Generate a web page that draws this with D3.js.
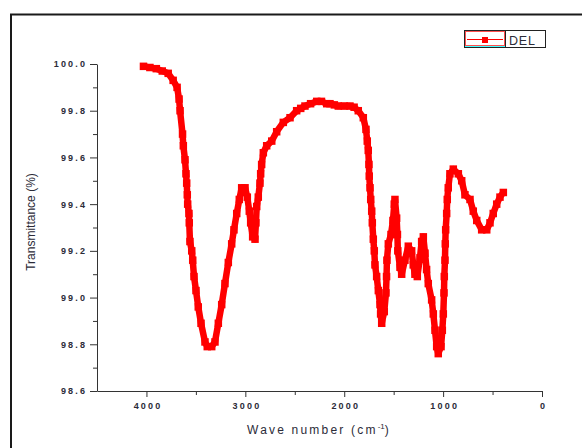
<!DOCTYPE html>
<html>
<head>
<meta charset="utf-8">
<script src="https://cdn.jsdelivr.net/npm/d3@7"></script>
<style>
	body { margin:0; background:#fff; }
	svg { display:block; font-family:"Liberation Sans", Arial, sans-serif; }
	.tick text { fill:#2b2b38; font-size:9px; font-weight:bold; letter-spacing:2.2px; }
	.domain, .tick line { stroke:#333; }
</style>
</head>
<body>
<div id="player"></div>
<script>

// FTIR spectrum
var wavenumbers = [4030,3965,3900,3840,3780,3730,3690,3670,3660,3635,3627,3610,3600,3593,3587,3583,3570,3567,3560,3542,
	3532,3519,3499,3476,3448,3408,3385,3340,3307,3273,3239,3206,3172,3138,3115,3087,3061,3037,3003,2980,
	2960,2946,2926,2902,2893,2885,2869,2852,2845,2835,2818,2784,2733,2683,2616,2548,2481,2440,2397,2340,
	2278,2230,2177,2144,2100,2060,2000,1942,1900,1858,1807,1780,1767,1757,1750,1747,1739,1732,1722,1716,
	1706,1696,1689,1672,1655,1638,1632,1621,1595,1578,1572,1568,1554,1527,1507,1494,1487,1470,1462,1458,
	1436,1419,1386,1352,1318,1302,1285,1261,1234,1217,1200,1183,1167,1150,1116,1099,1082,1065,1049,1021,
	1008,998,991,988,981,978,974,964,958,948,931,897,846,812,779,728,695,660,610,559,
	526,493,458,425,391];
var transmittance = [99.99,99.985,99.98,99.97,99.96,99.93,99.90,99.85,99.80,99.70,99.65,99.59,99.53,99.49,99.44,99.40,99.36,99.32,99.24,99.20,
	99.16,99.09,99.03,98.96,98.89,98.81,98.79,98.79,98.81,98.89,98.97,99.06,99.15,99.23,99.29,99.36,99.42,99.47,99.47,99.43,
	99.37,99.32,99.26,99.25,99.32,99.39,99.43,99.49,99.53,99.57,99.62,99.65,99.67,99.71,99.75,99.77,99.80,99.81,99.82,99.83,
	99.84,99.84,99.83,99.83,99.825,99.82,99.82,99.82,99.815,99.80,99.77,99.72,99.67,99.63,99.57,99.52,99.47,99.42,99.37,99.32,
	99.25,99.20,99.14,99.09,99.03,98.97,98.93,98.89,98.94,99.02,99.09,99.16,99.23,99.27,99.33,99.40,99.42,99.34,99.27,99.20,
	99.13,99.10,99.16,99.22,99.20,99.14,99.10,99.09,99.17,99.24,99.26,99.19,99.12,99.06,98.99,98.93,98.86,98.79,98.76,98.79,
	98.86,98.93,99.02,99.09,99.16,99.23,99.29,99.36,99.42,99.47,99.53,99.55,99.53,99.50,99.44,99.42,99.37,99.33,99.29,99.29,
	99.32,99.36,99.40,99.43,99.45];
var seriesName = "DEL";

// ticks
var xMajor = [4000, 3000, 2000, 1000, 0];
var xMinor = [3500, 2500, 1500, 500];
var yMajor = [98.6, 98.8, 99.0, 99.2, 99.4, 99.6, 99.8, 100.0];
var yMinor = [98.7, 98.9, 99.1, 99.3, 99.5, 99.7, 99.9];

var points = wavenumbers.map(function(w, i){ return {w:w, t:transmittance[i]}; });

// set the dimensions and margins of the graph
var margin = {top:64, left:97},
	width = 445,
	height = 327;

var x = d3.scaleLinear().domain([4500, 0]).range([0, width]);
var y = d3.scaleLinear().domain([98.6, 100.0]).range([height, 0]);

var svg = d3.select("#player").append("svg")
	.attr("width", 582)
	.attr("height", 448);

// outer frame (only top and left show)
svg.append("path")
	.attr("d", "M11,448V14.5H582")
	.attr("fill", "none")
	.attr("stroke", "#1a1a1a")
	.attr("stroke-width", 2);

var chart = svg.append("g")
	.attr("transform", "translate(" + margin.left + "," + margin.top + ")");

// minor ticks first
chart.append("g")
	.attr("transform", "translate(0," + height + ")")
	.call(d3.axisBottom(x).tickValues(xMinor).tickSize(4).tickFormat(""))
	.call(function(g){ g.select(".domain").remove(); });
chart.append("g")
	.call(d3.axisLeft(y).tickValues(yMinor).tickSize(4).tickFormat(""))
	.call(function(g){ g.select(".domain").remove(); });

// major axes
var xAxis = chart.append("g")
	.attr("transform", "translate(0," + height + ")")
	.call(d3.axisBottom(x).tickValues(xMajor).tickSize(6).tickSizeOuter(0).tickPadding(6).tickFormat(d3.format("d")));
var yAxis = chart.append("g")
	.call(d3.axisLeft(y).tickValues(yMajor).tickSize(7).tickSizeOuter(0).tickPadding(5).tickFormat(d3.format(".1f")));
xAxis.selectAll("text").attr("dx", "1.1px");
yAxis.selectAll("text").attr("dx", "2.2px");

// axis labels
svg.append("text")
	.attr("x", 319)
	.attr("y", 434)
	.attr("text-anchor", "middle")
	.style("font-size", "12px")
	.style("letter-spacing", "2.2px")
	.style("fill", "#2b2b38")
	.call(function(t){
		t.append("tspan").text("Wave number (cm");
		t.append("tspan").attr("dy", "-5").style("font-size", "8px").style("letter-spacing", "0px").text("-1");
		t.append("tspan").attr("dy", "5").text(")");
	});
svg.append("text")
	.attr("transform", "translate(35,222) rotate(-90)")
	.attr("text-anchor", "middle")
	.style("font-size", "12px")
	.style("fill", "#2b2b38")
	.text("Transmittance (%)");

// the spectrum
var pathline = d3.line()
	.x(function(d){ return x(d.w); })
	.y(function(d){ return y(d.t); });

chart.append("path")
	.datum(points)
	.attr("d", pathline)
	.attr("fill", "none")
	.attr("stroke", "#ff0000")
	.attr("stroke-width", 6.5)
	.attr("stroke-linejoin", "round");

chart.selectAll("rect.pt").data(points).enter().append("rect")
	.attr("class", "pt")
	.attr("x", function(d){ return x(d.w) - 3.75; })
	.attr("y", function(d){ return y(d.t) - 3.75; })
	.attr("width", 7.5)
	.attr("height", 7.5)
	.attr("fill", "#ff0000");

// legend
var legend = svg.append("g");
legend.append("rect")
	.attr("x", 464.5).attr("y", 30.5)
	.attr("width", 81).attr("height", 17)
	.attr("fill", "#fff")
	.attr("stroke", "#222");
legend.append("rect")
	.attr("x", 465.5).attr("y", 31.5)
	.attr("width", 39).attr("height", 14)
	.attr("fill", "none")
	.attr("stroke", "#ff5050");
legend.append("line")
	.attr("x1", 465).attr("x2", 505)
	.attr("y1", 46.5).attr("y2", 46.5)
	.attr("stroke", "#40ffff");
legend.append("line")
	.attr("x1", 505.5).attr("x2", 505.5)
	.attr("y1", 30.5).attr("y2", 47.5)
	.attr("stroke", "#222");
legend.append("line")
	.attr("x1", 467).attr("x2", 503)
	.attr("y1", 39.5).attr("y2", 39.5)
	.attr("stroke", "#ff0000");
legend.append("rect")
	.attr("x", 482).attr("y", 37)
	.attr("width", 6).attr("height", 6)
	.attr("fill", "#ff0000");
legend.append("text")
	.attr("x", 509).attr("y", 45)
	.style("font-size", "12.5px")
	.style("letter-spacing", "0.8px")
	.style("fill", "#2b2b38")
	.text(seriesName);

</script>
</body>
</html>
